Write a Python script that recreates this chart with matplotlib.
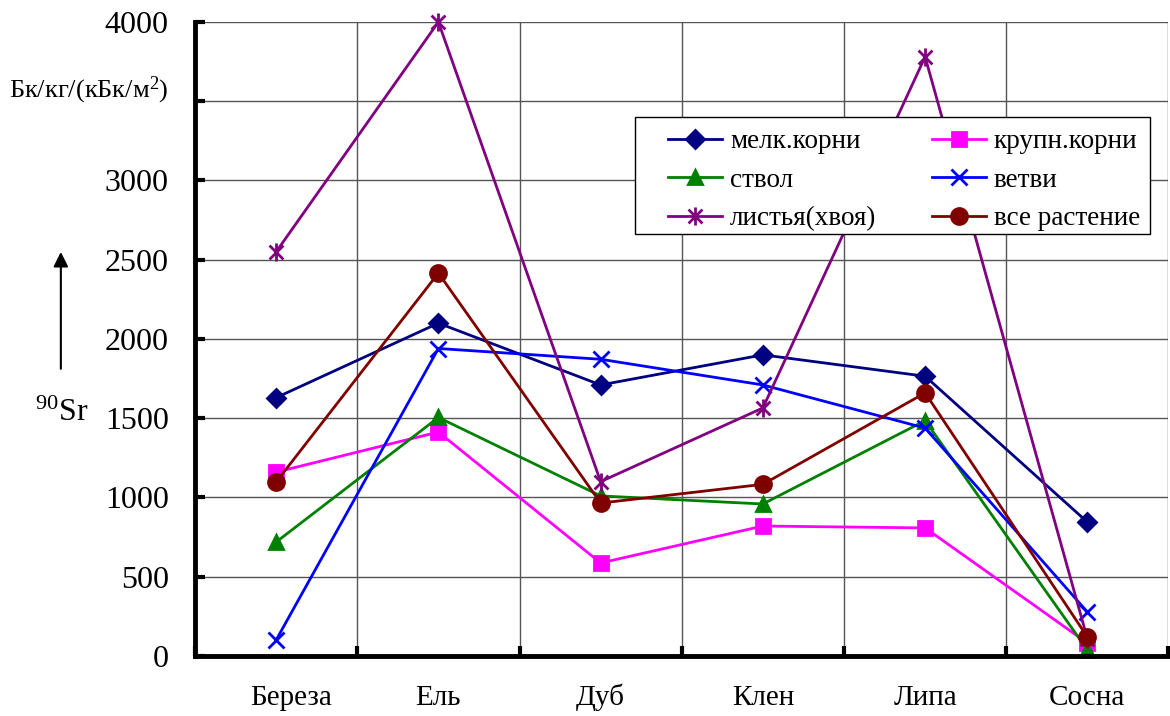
import numpy as np
import matplotlib
matplotlib.use('Agg')
from matplotlib import pyplot as plt
from matplotlib.path import Path
from matplotlib.patches import FancyArrowPatch, Rectangle

plt.rcParams['font.family'] = ['Liberation Serif', 'DejaVu Serif']
plt.rcParams['mathtext.fontset'] = 'custom'
plt.rcParams['mathtext.rm'] = 'Liberation Serif'
plt.rcParams['mathtext.it'] = 'Liberation Serif:italic'

species = ['Береза', 'Ель', 'Дуб', 'Клен', 'Липа', 'Сосна']

fine_roots = [1630, 2100, 1710, 1900, 1765, 845]
big_roots = [1160, 1413, 587, 820, 808, 82]
trunk = [719, 1505, 1010, 959, 1485, 38]
branches = [101, 1940, 1872, 1710, 1438, 278]
leaves = [2550, 4000, 1100, 1565, 3780, 110]
whole_plant = [1098, 2416, 965, 1083, 1660, 120]

# excel-like star: X with a vertical bar
star = Path([(-1, -1), (1, 1), (-1, 1), (1, -1), (0, -1.3), (0, 1.3)],
            [Path.MOVETO, Path.LINETO, Path.MOVETO, Path.LINETO, Path.MOVETO, Path.LINETO])

series = [
    ('мелк.корни', fine_roots, '#000080', 'D', 9.5),
    ('крупн.корни', big_roots, '#FF00FF', 's', 10),
    ('ствол', trunk, '#008000', '^', 10.5),
    ('ветви', branches, '#0000FF', 'x', 11),
    ('листья(хвоя)', leaves, '#800080', star, 13),
    ('все растение', whole_plant, '#800000', 'o', 11.5),
]

fig = plt.figure(figsize=(11.7, 7.16), dpi=100)
ax = fig.add_axes([0.1667, 0.0838, 0.832, 0.8855])

x = np.arange(len(species))
handles = []
for name, vals, color, marker, ms in series:
    h, = ax.plot(x, vals, color=color, lw=2, marker=marker, ms=ms,
                 mec=color, mfc=color, mew=2, label=name, clip_on=False, zorder=3)
    handles.append(h)

ax.set_xlim(-0.5, len(species) - 0.5)
ax.set_ylim(0, 4000)
yt = np.arange(0, 4001, 500)
ax.set_yticks(yt)
# 3500 sits under the units caption
ax.set_yticklabels([str(v) if v != 3500 else '' for v in yt])
ax.set_xticks(np.arange(-0.5, len(species), 1))
ax.set_xticklabels([])
ax.tick_params(axis='x', which='major', direction='in', length=7, width=3)
ax.tick_params(axis='y', direction='in', length=7, width=3, labelsize=23, pad=19)
ax.grid(True, which='major', color='#555555', lw=1)

# category names under each group (first one sits a bit right)
shifts = [11, 0, 0, 0, 0, 0]
for i, name in enumerate(species):
    ax.annotate(name, xy=(i, 0), xycoords=('data', 'axes fraction'),
                xytext=(shifts[i], -30), textcoords='offset points',
                ha='center', va='center', fontsize=21)

for s in ['top', 'right']:
    ax.spines[s].set_visible(False)
for s in ['left', 'bottom']:
    ax.spines[s].set_linewidth(3.5)
    ax.spines[s].set_zorder(4)

# legend box drawn separately, entries filled column by column
fig.patches.append(Rectangle((0.5427, 0.6732), 0.4402, 0.1634, transform=fig.transFigure,
                             facecolor='white', edgecolor='black', lw=1, zorder=5))
order = [0, 2, 4, 1, 3, 5]
leg = fig.legend([handles[i] for i in order], [handles[i].get_label() for i in order],
                 ncol=2, loc='upper left', bbox_to_anchor=(0.5709, 0.8198),
                 bbox_transform=fig.transFigure, fontsize=19.5, frameon=False,
                 handlelength=2.0, handletextpad=0.3, columnspacing=2.03,
                 borderpad=0, labelspacing=0.5, borderaxespad=0)
leg.set_zorder(6)

fig.text(0.008, 0.874, 'Бк/кг/(кБк/м$^2$)', fontsize=19, va='center', ha='left')
fig.text(0.03, 0.423, '$^{90}$Sr', fontsize=23, va='center', ha='left')
fig.patches.append(FancyArrowPatch(
    (0.052, 0.481), (0.052, 0.652), transform=fig.transFigure,
    arrowstyle='-|>', mutation_scale=22, color='black', lw=1.5))

fig.savefig('out.png', dpi=100)
